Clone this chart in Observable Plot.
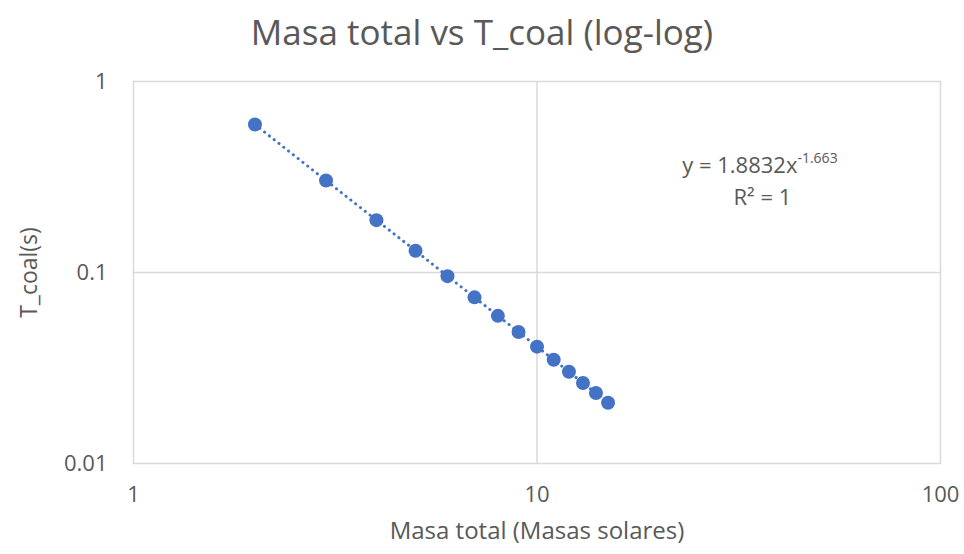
<!DOCTYPE html>
<html>
<head>
<meta charset="utf-8">
<script src="https://cdn.jsdelivr.net/npm/d3@7"></script>
<script src="https://cdn.jsdelivr.net/npm/@observablehq/plot@0.6"></script>
<style>
  html, body { margin: 0; padding: 0; background: #fff; }
  #chart { width: 964px; height: 554px; position: relative; font-family: "Open Sans", sans-serif; }
  #title { height: 60px; line-height: 64px; text-align: center; font-size: 35px; color: #595959; }
  svg text { fill: #595959; }
</style>
</head>
<body>
<div id="chart">
  <div id="title">Masa total vs T_coal (log-log)</div>
</div>
<script>
// Total mass (solar masses) and coalescence time (s)
const masa = [2, 3, 4, 5, 6, 7, 8, 9, 10, 11, 12, 13, 14, 15];
const tCoal = [0.595, 0.303, 0.188, 0.130, 0.0957, 0.0741, 0.0593, 0.0488, 0.0409, 0.0349, 0.0302, 0.0264, 0.0234, 0.0208];
const xTicks = [1, 10, 100];
const yTicks = [0.01, 0.1, 1];
const ajuste = "y = 1.8832x";
const exponente = "-1.663";
const r2 = "R² = 1";

const data = masa.map((m, i) => ({masa: m, t: tCoal[i]}));
const blue = "#4472C4";
const gridColor = "#d9d9d9";

const plot = Plot.plot({
  width: 964,
  height: 494,
  marginLeft: 133,
  marginRight: 24,
  marginTop: 21,
  marginBottom: 91,
  style: {fontFamily: "'Open Sans', sans-serif", fontSize: "22px", color: "#595959", background: "#fff"},
  x: {type: "log", domain: [1, 100]},
  y: {type: "log", domain: [0.01, 1]},
  marks: [
    Plot.gridX([10], {stroke: gridColor, strokeOpacity: 1, strokeWidth: 1.5}),
    Plot.gridY([0.1], {stroke: gridColor, strokeOpacity: 1, strokeWidth: 1.5}),
    Plot.frame({stroke: gridColor, strokeWidth: 1.5}),
    Plot.axisX(xTicks, {tickSize: 0, tickPadding: 23, tickFormat: d => String(d), fontSize: 22,
      label: null}),
    Plot.axisY(yTicks, {tickSize: 0, tickPadding: 26, tickFormat: d => String(d), fontSize: 22,
      label: null}),
    // axis titles
    Plot.text(["Masa total (Masas solares)"], {frameAnchor: "bottom", dy: 75, text: d => d,
      textAnchor: "middle", fontSize: 24, fill: "#595959"}),
    Plot.text(["T_coal(s)"], {frameAnchor: "left", dx: -104, rotate: -90, text: d => d,
      textAnchor: "middle", lineAnchor: "middle", fontSize: 23, fill: "#595959"}),
    // power-law trendline
    Plot.line(data, {x: "masa", y: "t", stroke: blue, strokeWidth: 3, strokeDasharray: "0.1 6",
      strokeLinecap: "round"}),
    Plot.dot(data, {x: "masa", y: "t", r: 7, fill: blue, stroke: "none"}),
    // fit equation
    Plot.text([ajuste], {x: 44.2, y: 0.36, text: d => d, textAnchor: "end", fontSize: 22, fill: "#595959"}),
    Plot.text([exponente], {x: 44.2, y: 0.36, text: d => d, textAnchor: "start", dy: -8, fontSize: 14, fill: "#595959"}),
    Plot.text([r2], {x: 36.2, y: 0.245, text: d => d, textAnchor: "middle", fontSize: 22, fill: "#595959"})
  ]
});
document.getElementById("chart").appendChild(plot);
</script>
</body>
</html>
